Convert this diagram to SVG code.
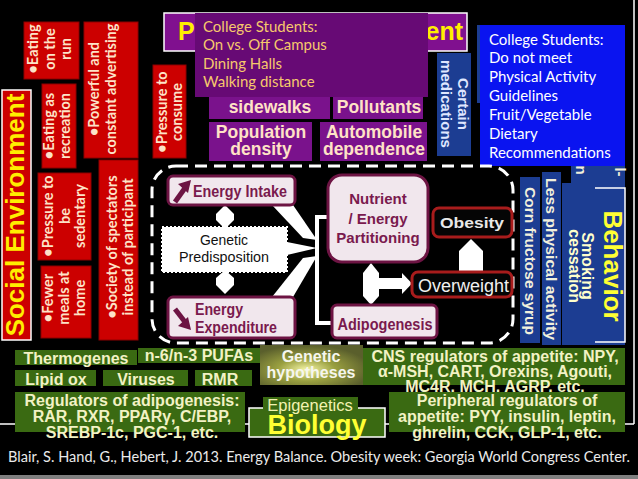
<svg xmlns="http://www.w3.org/2000/svg" width="638" height="479" viewBox="0 0 638 479">
<defs>
<style>
.red{fill:#cc0000;stroke:#8e0000;stroke-width:1}
.redt{font-family:Lato,"Open Sans",sans-serif;font-weight:700;font-size:14.5px;fill:#fde3c8;text-anchor:middle}
.pur{fill:#7a128c}
.purt{font-family:"Liberation Sans",Arial,sans-serif;font-weight:700;font-size:17.5px;fill:#ffe2c6;text-anchor:middle}
.calt{font-family:Lato,"Open Sans",sans-serif;font-size:15px}
.blu{fill:#1c3d92}
.blut{font-family:"Liberation Sans",Arial,sans-serif;font-weight:700;fill:#f2f0dc;text-anchor:middle}
.node{fill:#f1e7ed;stroke:#6d1443;stroke-width:3}
.nodet{font-family:"Liberation Sans",Arial,sans-serif;font-weight:700;fill:#7a1a4e}
.dark{fill:#050505;stroke:#a81c1c;stroke-width:3}
.grn{fill:#3a6a12}
.grnt{font-family:"Liberation Sans",Arial,sans-serif;font-weight:700;font-size:16px;fill:#f2f2c4;text-anchor:middle}
.arr{fill:#ffffff}
.icon{fill:#6d1443}
</style>
<radialGradient id="glow" cx="0.45" cy="0.62" r="0.62">
<stop offset="0" stop-color="#f6f6a8"/>
<stop offset="0.45" stop-color="#9aa040"/>
<stop offset="1" stop-color="#5a5f2c"/>
</radialGradient>
</defs>
<rect width="638" height="479" fill="#000"/>
<g id="frame" stroke="#fff" stroke-width="1.5" fill="none">
<line x1="634" y1="0" x2="634" y2="424"/>
<line x1="0" y1="424" x2="634" y2="424"/>
</g>
<rect x="0" y="475" width="638" height="4" fill="#7f7f7f"/>

<g id="social-environment">
<rect x="2" y="90" width="29" height="250" fill="#cc0000" stroke="#fff" stroke-width="1.5"/>
<text transform="translate(0,215) rotate(-90)" x="0" y="24" font-family="Liberation Sans, Arial, sans-serif" font-weight="700" font-size="26" fill="#ffee00" text-anchor="middle">Social Environment</text>
</g>
<g id="eating-on-run">
<rect class="red" x="24" y="22" width="55" height="57"/>
<g transform="translate(0,49) rotate(-90)" class="redt"><text y="38">•Eating</text><text y="55">on the</text><text y="71">run</text></g>
</g>
<g id="advertising">
<rect class="red" x="84" y="22" width="54" height="136"/>
<g transform="translate(0,89) rotate(-90)" class="redt"><text y="99">•Powerful and</text><text y="116">constant advertising</text></g>
</g>
<g id="eating-recreation">
<rect class="red" x="42" y="84" width="34" height="84"/>
<g transform="translate(0,126) rotate(-90)" class="redt"><text y="54">•Eating as</text><text y="70">recreation</text></g>
</g>
<g id="pressure-consume">
<rect class="red" x="153" y="65" width="33" height="93"/>
<g transform="translate(0,112) rotate(-90)" class="redt"><text y="167">•Pressure to</text><text y="182">consume</text></g>
</g>
<g id="pressure-sedentary">
<rect class="red" x="38" y="173" width="53" height="87"/>
<g transform="translate(0,216) rotate(-90)" class="redt"><text y="53">•Pressure to</text><text y="70">be</text><text y="85">sedentary</text></g>
</g>
<g id="fewer-meals">
<rect class="red" x="41" y="266" width="50" height="72"/>
<g transform="translate(0,298) rotate(-90)" class="redt"><text y="53">•Fewer</text><text y="69">meals at</text><text y="85">home</text></g>
</g>
<g id="spectators">
<rect class="red" x="99" y="160" width="39" height="180"/>
<g transform="translate(0,247) rotate(-90)" class="redt"><text y="117">•Society of spectators</text><text y="133">instead of participant</text></g>
</g>

<g id="physical-environment">
<rect x="164" y="13" width="303" height="38" fill="#80108f" stroke="#fff" stroke-width="1.5"/>
<text x="178" y="40" font-family="Liberation Sans, Arial, sans-serif" font-weight="700" font-size="25" fill="#ffee00">P</text>
<text x="463" y="40" font-family="Liberation Sans, Arial, sans-serif" font-weight="700" font-size="25" fill="#ffee00" text-anchor="end">ent</text>
</g>
<g id="sidewalks"><rect class="pur" x="209" y="90" width="121" height="29"/><text class="purt" x="270" y="113">sidewalks</text></g>
<g id="pollutants"><rect class="pur" x="333" y="90" width="90" height="29"/><text class="purt" x="379" y="113">Pollutants</text></g>
<g id="population"><rect class="pur" x="209" y="122" width="103" height="39"/><text class="purt" x="261" y="138">Population</text><text class="purt" x="261" y="155">density</text></g>
<g id="automobile"><rect class="pur" x="320" y="122" width="107" height="39"/><text class="purt" x="374" y="138">Automobile</text><text class="purt" x="374" y="155">dependence</text></g>
<g id="college-campus">
<rect x="195" y="13" width="233" height="84" fill="#670a75"/>
<g class="calt" fill="#f6c86c"><text x="203" y="31.5">College Students:</text><text x="203" y="50">On vs. Off Campus</text><text x="203" y="68.5">Dining Halls</text><text x="203" y="87">Walking distance</text></g>
</g>
<g id="medications">
<rect class="blu" x="437" y="53" width="34" height="103"/>
<g transform="translate(0,104) rotate(90)" class="blut" font-size="15.5"><text y="-458" style="fill:#dfe6ff" textLength="52" lengthAdjust="spacingAndGlyphs">Certain</text><text y="-441" style="fill:#dfe6ff" textLength="88" lengthAdjust="spacingAndGlyphs">medications</text></g>
</g>

<g id="behavior">
<rect class="blu" x="477" y="25" width="8" height="78"/>
<rect class="blu" x="571" y="100" width="54" height="84"/>
<text class="blut" transform="translate(0,170) rotate(90)" y="-576" font-size="15">n</text>
<text class="blut" transform="translate(0,172) rotate(90)" y="-615" font-size="15">l-</text>
<rect class="blu" x="562" y="183" width="63" height="162"/>
<path d="M595,188 H625 V342 H595" fill="none" stroke="#fff" stroke-width="1.5"/>
<text class="blut" transform="translate(0,266) rotate(90)" y="-604" font-size="26" style="fill:#ffff33">Behavior</text>
<g transform="translate(0,266) rotate(90)" class="blut" font-size="16"><text y="-582" style="fill:#ffffcc">Smoking</text><text y="-568.5" style="fill:#ffffcc">cessation</text></g>
</g>
<g id="corn-syrup">
<rect class="blu" x="520" y="177" width="20" height="166"/>
<text class="blut" transform="translate(0,261) rotate(90)" y="-524.6" font-size="15" textLength="148" lengthAdjust="spacingAndGlyphs">Corn fructose syrup</text>
</g>
<g id="less-activity">
<rect class="blu" x="542" y="172" width="19" height="173"/>
<text class="blut" transform="translate(0,259) rotate(90)" y="-546" font-size="15.5" textLength="162" lengthAdjust="spacingAndGlyphs">Less physical activity</text>
</g>
<g id="college-activity">
<rect x="480" y="25" width="145" height="141" fill="#0a14f0"/>
<g class="calt" fill="#ffffff"><text x="489" y="44.5">College Students:</text><text x="489" y="63.4">Do not meet</text><text x="489" y="82.3">Physical Activity</text><text x="489" y="101.2">Guidelines</text><text x="489" y="120.1">Fruit/Vegetable</text><text x="489" y="139">Dietary</text><text x="489" y="157.9">Recommendations</text></g>
</g>

<rect id="energy-balance-frame" x="152" y="166" width="361" height="177" rx="24" fill="none" stroke="#fff" stroke-width="3" stroke-dasharray="12 7"/>

<g id="connectors">
<polygon class="arr" points="225,205 234,214 234,220 225,229 216,220 216,214"/>
<polygon class="arr" points="225,270 234,278 234,285 225,294 216,285 216,278"/>
<polygon class="arr" points="272,205 293,205 317,240 303,238"/>
<polygon class="arr" points="287,242 317,248 287,255"/>
<polygon class="arr" points="272,297 293,297 317,256 303,258"/>
<path d="M328,217 H317 V323 H333" fill="none" stroke="#fff" stroke-width="4"/>
<polygon class="arr" points="371,263 379,273 379,296 371,305 363,296 363,273"/>
<rect class="arr" x="375" y="278" width="28" height="11"/>
<polygon class="arr" points="402,273 412,283.5 402,294"/>
<polygon class="arr" points="471,239 483,251 483,272 459,272 459,251"/>
</g>

<g id="energy-intake">
<rect class="node" x="168" y="176" width="127" height="29" rx="5"/>
<path d="M175,202 L185,188" stroke="#6d1443" stroke-width="5"/>
<polygon class="icon" points="191,180 178,184 188,193"/>
<text class="nodet" x="193" y="197" font-size="16.5" textLength="94" lengthAdjust="spacingAndGlyphs">Energy Intake</text>
</g>
<g id="energy-expenditure">
<rect class="node" x="168" y="297" width="127" height="41" rx="5"/>
<path d="M175,309 L185,322" stroke="#6d1443" stroke-width="5"/>
<polygon class="icon" points="191,330 178,326 188,317"/>
<text class="nodet" x="195" y="315" font-size="16.5" textLength="48" lengthAdjust="spacingAndGlyphs">Energy</text>
<text class="nodet" x="195" y="333" font-size="16.5" textLength="82" lengthAdjust="spacingAndGlyphs">Expenditure</text>
</g>
<g id="genetic-predisposition">
<rect x="162" y="227" width="125" height="45" fill="#fff" stroke="#fff" stroke-width="2" stroke-dasharray="2 2"/>
<text x="224" y="245" font-family="Liberation Sans, Arial, sans-serif" font-size="14.5" fill="#111" text-anchor="middle" textLength="48" lengthAdjust="spacingAndGlyphs">Genetic</text>
<text x="224" y="262" font-family="Liberation Sans, Arial, sans-serif" font-size="14.5" fill="#111" text-anchor="middle" textLength="90" lengthAdjust="spacingAndGlyphs">Predisposition</text>
</g>
<g id="nutrient-partitioning">
<rect class="node" x="328" y="175" width="100" height="87" rx="14"/>
<g class="nodet" font-size="15" text-anchor="middle"><text x="378" y="204">Nutrient</text><text x="378" y="224">/ Energy</text><text x="378" y="243">Partitioning</text></g>
</g>
<g id="adipogenesis">
<rect class="node" x="332" y="305" width="105" height="33" rx="5"/>
<text class="nodet" x="385" y="330" font-size="17" text-anchor="middle" textLength="95" lengthAdjust="spacingAndGlyphs">Adipogenesis</text>
</g>
<g id="obesity">
<rect class="dark" x="433" y="208" width="79" height="29" rx="6"/>
<text x="472" y="228" font-family="Liberation Sans, Arial, sans-serif" font-weight="700" font-size="15" fill="#e8e8e8" text-anchor="middle" textLength="64" lengthAdjust="spacingAndGlyphs">Obesity</text>
</g>
<g id="overweight">
<rect class="dark" x="412" y="272" width="100" height="25" rx="6"/>
<text x="418" y="292" font-family="Liberation Sans, Arial, sans-serif" font-size="18" fill="#f0f0f0" textLength="91" lengthAdjust="spacingAndGlyphs">Overweight</text>
</g>

<g id="thermogenes"><rect class="grn" x="15" y="350" width="122" height="15"/><text class="grnt" x="76" y="364" font-size="17.5">Thermogenes</text></g>
<g id="pufas"><rect class="grn" x="138" y="348" width="122" height="15"/><text class="grnt" x="199" y="361" font-size="15">n-6/n-3 PUFAs</text></g>
<g id="lipid-ox"><rect class="grn" x="15" y="370" width="81" height="16"/><text class="grnt" x="56" y="385" font-size="17.5">Lipid ox</text></g>
<g id="viruses"><rect class="grn" x="103" y="370" width="85" height="16"/><text class="grnt" x="146" y="385" font-size="17.5">Viruses</text></g>
<g id="rmr"><rect class="grn" x="195" y="370" width="57" height="16"/><text class="grnt" x="220" y="385" font-size="18">RMR</text></g>
<g id="genetic-hypotheses"><rect x="260" y="345" width="103" height="40" fill="url(#glow)"/><text class="grnt" x="311" y="362" style="fill:#f6f6ee">Genetic</text><text class="grnt" x="311" y="378" style="fill:#f6f6ee">hypotheses</text></g>
<g id="adipogenesis-regulators"><rect class="grn" x="15" y="392" width="230" height="40"/>
<text class="grnt" x="132" y="406">Regulators of adipogenesis:</text><text class="grnt" x="132" y="422">RAR, RXR, PPARγ, C/EBP,</text><text class="grnt" x="132" y="438">SREBP-1c, PGC-1, etc.</text></g>
<g id="biology">
<rect x="249" y="408" width="136" height="29" fill="#3a6a12" stroke="#fff" stroke-width="1.5"/>
<rect class="grn" x="263" y="397" width="95" height="16"/>
<text x="310" y="410.5" font-family="Liberation Sans, Arial, sans-serif" font-size="16.5" fill="#f2f2b0" text-anchor="middle">Epigenetics</text>
<text x="317" y="434" font-family="Liberation Sans, Arial, sans-serif" font-weight="700" font-size="27" fill="#ffff33" text-anchor="middle">Biology</text>
</g>
<g id="cns-regulators"><rect class="grn" x="363" y="348" width="262" height="37"/>
<text class="grnt" x="495" y="362">CNS regulators of appetite: NPY,</text><text class="grnt" x="495" y="377">α-MSH, CART, Orexins, Agouti,</text><text class="grnt" x="495" y="392">MC4R, MCH, AGRP, etc.</text></g>
<g id="peripheral-regulators"><rect class="grn" x="389" y="392" width="236" height="40"/>
<text class="grnt" x="507" y="406">Peripheral regulators of</text><text class="grnt" x="507" y="422">appetite: PYY, insulin, leptin,</text><text class="grnt" x="507" y="438">ghrelin, CCK, GLP-1, etc.</text></g>

<text id="citation" x="8" y="462" font-family="Lato, 'Open Sans', sans-serif" font-size="15.5" fill="#eaeaea" textLength="622" lengthAdjust="spacingAndGlyphs">Blair, S. Hand, G., Hebert, J. 2013. Energy Balance. Obesity week: Georgia World Congress Center.</text>
</svg>
